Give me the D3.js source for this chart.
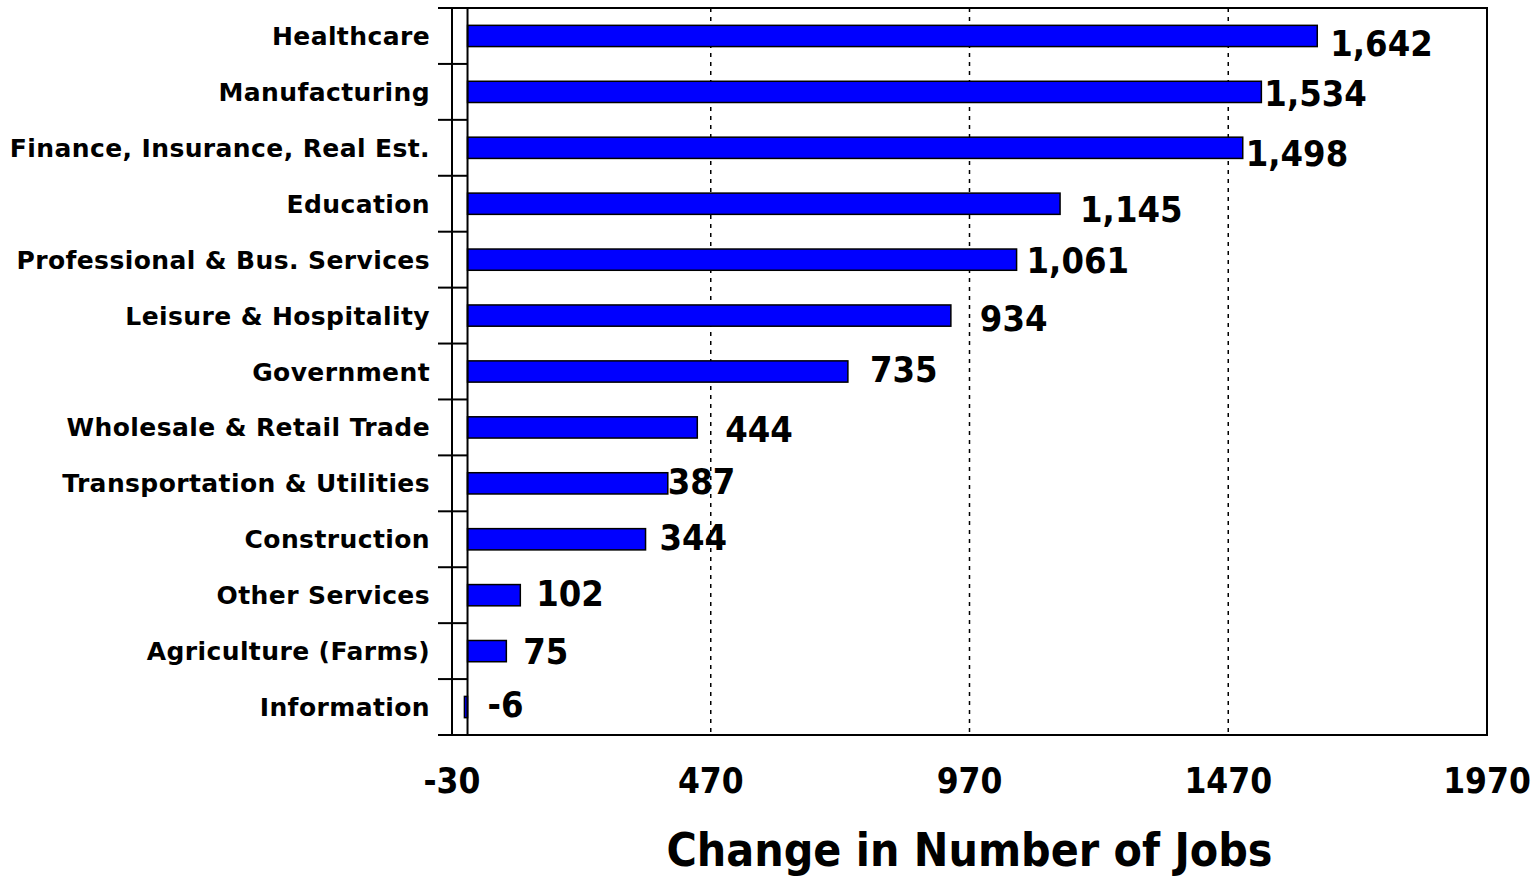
<!DOCTYPE html>
<html>
<head>
<meta charset="utf-8">
<script src="https://cdn.jsdelivr.net/npm/d3@7"></script>
<style>
    body { margin: 0; background: #fff; }
    svg text { font-family: "DejaVu Sans Condensed", "DejaVu Sans", sans-serif; font-weight: bold; fill: #000; }
    svg text.cat { font-family: "DejaVu Sans", sans-serif; font-size: 25px; letter-spacing: 0.4px; }
</style>
</head>
<body>
<div id="chart"></div>
<script>
// data
const sectors = [
    "Healthcare", "Manufacturing", "Finance, Insurance, Real Est.", "Education",
    "Professional & Bus. Services", "Leisure & Hospitality", "Government",
    "Wholesale & Retail Trade", "Transportation & Utilities", "Construction",
    "Other Services", "Agriculture (Farms)", "Information"
];
const jobChange = [1642, 1534, 1498, 1145, 1061, 934, 735, 444, 387, 344, 102, 75, -6];
const xTicks = [-30, 470, 970, 1470, 1970];
const axisTitle = "Change in Number of Jobs";

// hand-placed label nudges (px) as in the original chart
const labelDx = [13, 3, 3, 20, 10, 29, 22, 28, 0, 14, 16, 17, 20];
const labelDy = [7, 1, 5, 5, 0, 2, -2, 2, -2, -2, -2, 0, -3];

const width = 1536, height = 879;
const margin = {top: 8, right: 49, bottom: 144, left: 452};

const svg = d3.select('#chart').append('svg')
    .attr('width', width)
    .attr('height', height);

const x = d3.scaleLinear()
    .domain([xTicks[0], xTicks[xTicks.length - 1]])
    .range([margin.left, width - margin.right]);

const y = d3.scaleBand()
    .domain(sectors)
    .range([margin.top, height - margin.bottom])
    .paddingInner(0.62)
    .paddingOuter(0.31);

const plotTop = margin.top, plotBottom = height - margin.bottom;

// dotted gridlines
svg.append('g')
    .selectAll('line')
    .data(xTicks.slice(1, -1))
    .enter().append('line')
    .attr('x1', d => x(d)).attr('x2', d => x(d))
    .attr('y1', plotTop).attr('y2', plotBottom)
    .attr('stroke', '#000')
    .attr('stroke-width', 1.5)
    .attr('stroke-dasharray', '4,5');

// bars
svg.append('g')
    .selectAll('rect')
    .data(jobChange)
    .enter().append('rect')
    .attr('x', d => x(Math.min(0, d)))
    .attr('y', (d, i) => y(sectors[i]))
    .attr('width', d => Math.abs(x(d) - x(0)))
    .attr('height', y.bandwidth())
    .attr('fill', '#0000ff')
    .attr('stroke', '#000')
    .attr('stroke-width', 1.5);

// plot frame
svg.append('rect')
    .attr('x', x.range()[0])
    .attr('y', plotTop)
    .attr('width', x.range()[1] - x.range()[0])
    .attr('height', plotBottom - plotTop)
    .attr('fill', 'none')
    .attr('stroke', '#000')
    .attr('stroke-width', 2);

// zero line
svg.append('line')
    .attr('x1', x(0)).attr('x2', x(0))
    .attr('y1', plotTop).attr('y2', plotBottom)
    .attr('stroke', '#000')
    .attr('stroke-width', 2);

// category boundary ticks
const boundaries = d3.range(sectors.length + 1).map(i => plotTop + i * (plotBottom - plotTop) / sectors.length);
svg.append('g')
    .selectAll('line')
    .data(boundaries)
    .enter().append('line')
    .attr('x1', x.range()[0] - 14).attr('x2', x(0))
    .attr('y1', d => d).attr('y2', d => d)
    .attr('stroke', '#000')
    .attr('stroke-width', 2);

// category labels
svg.append('g')
    .selectAll('text')
    .data(sectors)
    .enter().append('text')
    .attr('class', 'cat')
    .attr('x', 430)
    .attr('y', d => y(d) + y.bandwidth() / 2)
    .attr('dy', '0.36em')
    .attr('text-anchor', 'end')
    .text(d => d);

// value labels (plain hyphen for negatives)
const fmt = d3.formatLocale({decimal: '.', thousands: ',', grouping: [3], currency: ['', ''], minus: '-'}).format(',');
svg.append('g')
    .selectAll('text')
    .data(jobChange)
    .enter().append('text')
    .attr('x', (d, i) => x(Math.max(0, d)) + labelDx[i])
    .attr('y', (d, i) => y(sectors[i]) + y.bandwidth() / 2 + labelDy[i])
    .attr('dy', '0.36em')
    .style('font-size', '36px')
    .text(d => fmt(d));

// x tick labels
svg.append('g')
    .selectAll('text')
    .data(xTicks)
    .enter().append('text')
    .attr('x', d => x(d))
    .attr('y', 793)
    .attr('text-anchor', 'middle')
    .style('font-size', '35px')
    .text(d => d);

// axis title
svg.append('text')
    .attr('x', (x.range()[0] + x.range()[1]) / 2)
    .attr('y', 866)
    .attr('text-anchor', 'middle')
    .style('font-size', '46px')
    .text(axisTitle);
</script>
</body>
</html>
